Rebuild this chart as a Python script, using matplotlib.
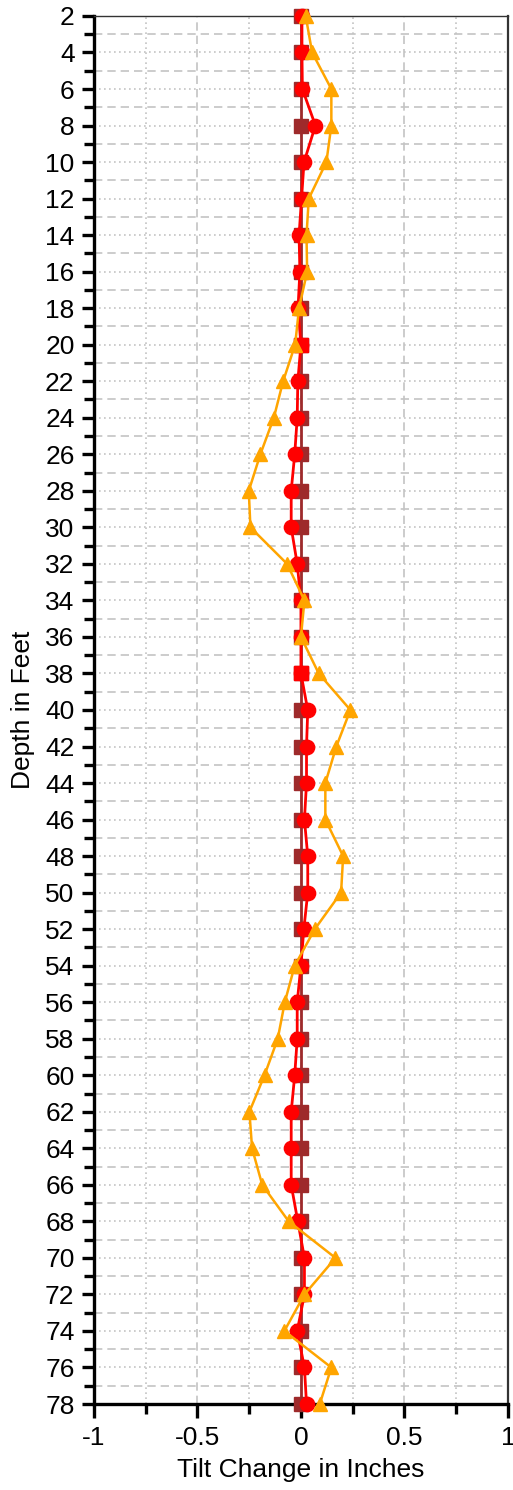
import numpy as np
import matplotlib.pyplot as plt
from matplotlib.ticker import MultipleLocator

plt.rcParams['font.family'] = ['Liberation Sans', 'DejaVu Sans']

# depth readings (feet) and tilt change (inches) for each survey
depth = list(range(2, 80, 2))

initial = [0.0] * len(depth)

reading_a = [0.005, 0.005, 0.007, 0.07, 0.015, 0.003, -0.009, -0.005, -0.014, 0.0,
             -0.015, -0.018, -0.03, -0.047, -0.047, -0.018, 0.0, 0.0, 0.0, 0.033,
             0.027, 0.027, 0.017, 0.033, 0.033, 0.014, 0.0, -0.018, -0.018, -0.03,
             -0.047, -0.047, -0.047, -0.015, 0.017, 0.017, -0.018, 0.017, 0.027]

reading_b = [0.023, 0.054, 0.147, 0.147, 0.123, 0.038, 0.027, 0.03, -0.009, -0.028,
             -0.086, -0.131, -0.196, -0.252, -0.244, -0.067, 0.017, 0.0, 0.086, 0.239,
             0.171, 0.118, 0.118, 0.204, 0.194, 0.067, -0.03, -0.078, -0.112, -0.176,
             -0.249, -0.236, -0.187, -0.059, 0.167, 0.017, -0.08, 0.147, 0.091]

# depths where reading A is shown with a square marker
square_depths = [20, 38]
square_vals = [0.0, 0.0]

x_ticks = [-1, -0.5, 0, 0.5, 1]
x_labels = ['-1', '-0.5', '0', '0.5', '1']

brown = '#9e2a2b'
red = '#ff0000'
orange = '#ffa500'

fig = plt.figure(figsize=(5.13, 14.9), dpi=100)
ax = fig.add_axes([0.1832, 0.0577, 0.8068, 0.9316])

ax.plot(initial, depth, color=brown, lw=2, marker='s', ms=10,
        mec=brown, mfc=brown, clip_on=False, zorder=3)
ax.plot(reading_a, depth, color=red, lw=2, marker='o', ms=10.3,
        mec=red, mfc=red, clip_on=False, zorder=4)
ax.plot(square_vals, square_depths, ls='none', marker='s', ms=10,
        mec=red, mfc=red, clip_on=False, zorder=4.5)
ax.plot(reading_b, depth, color=orange, lw=1.8, marker='^', ms=10,
        mec=orange, mfc=orange, clip_on=False, zorder=5)

ax.set_xlim(-1, 1)
ax.set_ylim(78, 2)
ax.set_xticks(x_ticks)
ax.set_xticklabels(x_labels)
ax.xaxis.set_minor_locator(MultipleLocator(0.25))
ax.set_yticks(depth)
ax.yaxis.set_minor_locator(MultipleLocator(1))

ax.grid(which='major', axis='x', color='#c4c4c4', ls=(0, (5, 3)), lw=1.2)
ax.grid(which='minor', axis='x', color='#c4c4c4', ls=(0, (1, 2)), lw=1.2)
ax.grid(which='major', axis='y', color='#c4c4c4', ls=(0, (1, 2)), lw=1.2)
ax.grid(which='minor', axis='y', color='#c4c4c4', ls=(0, (5, 3)), lw=1.2)
ax.set_axisbelow(True)

ax.tick_params(which='major', direction='out', length=10, width=2.4,
               labelsize=19, color='black')
ax.tick_params(which='minor', direction='out', length=7, width=2.4, color='black')
ax.tick_params(axis='y', which='major', length=9, pad=5)
ax.tick_params(axis='x', which='major', pad=6)

ax.spines['left'].set_linewidth(2.4)
ax.spines['bottom'].set_linewidth(2.4)
ax.spines['top'].set_linewidth(1)
ax.spines['right'].set_linewidth(1.6)
for s in ['top', 'right']:
    ax.spines[s].set_color('#333333')

ax.set_xlabel('Tilt Change in Inches', fontsize=19)
ax.set_ylabel('Depth in Feet', fontsize=19)
ax.xaxis.set_label_coords(0.5, -0.039)
ax.yaxis.set_label_coords(-0.142, 0.5)

fig.savefig('out.png', dpi=100)
